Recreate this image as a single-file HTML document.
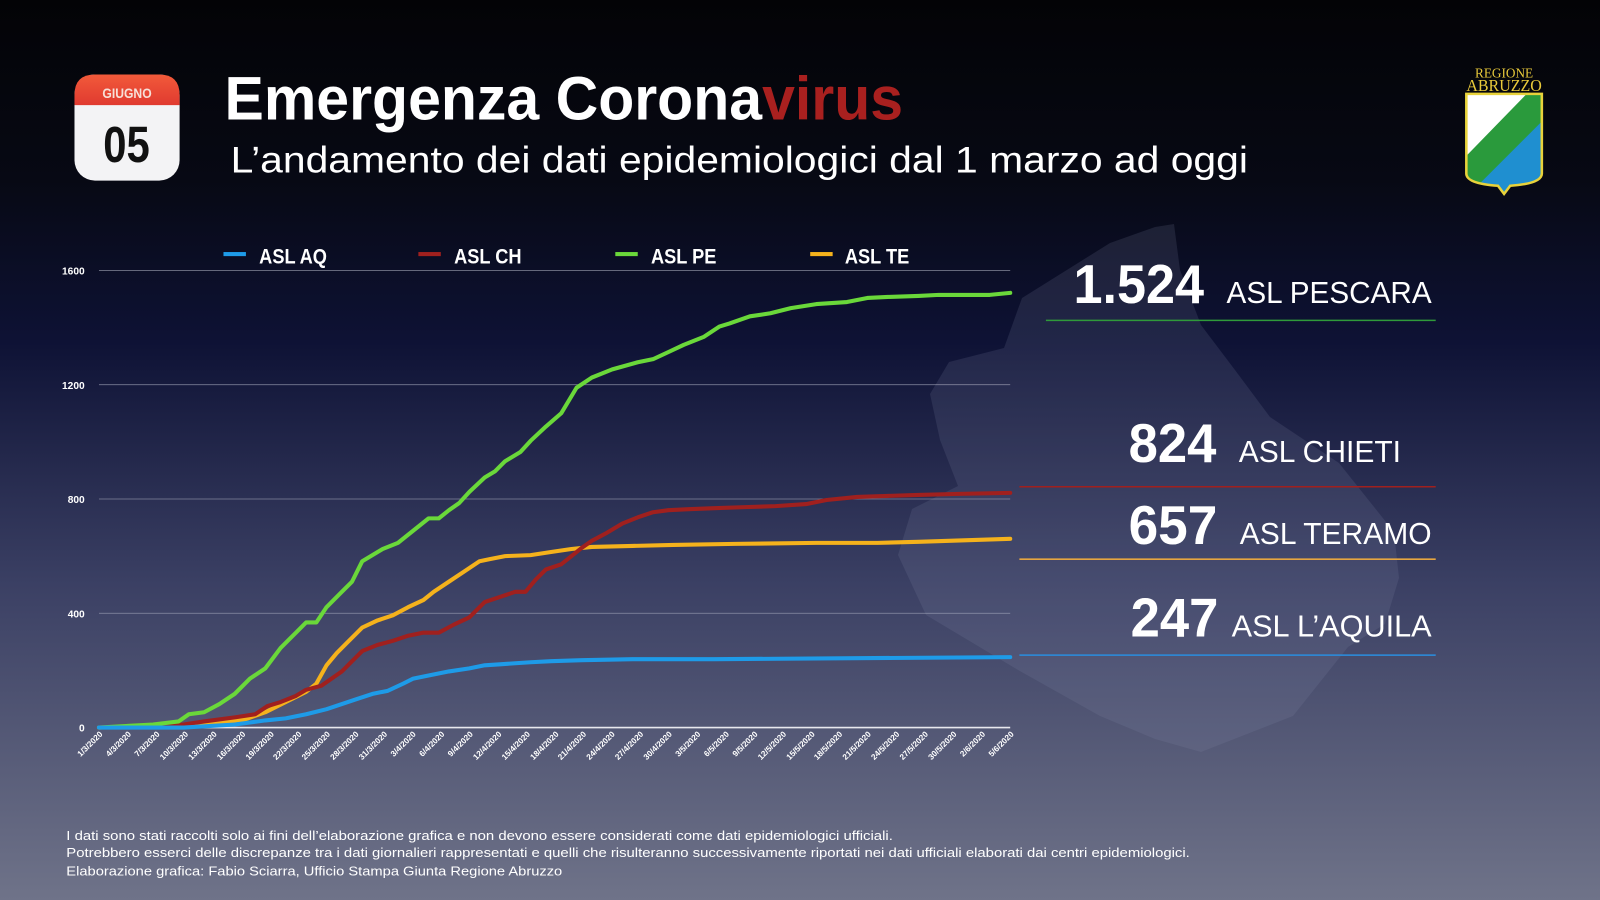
<!DOCTYPE html>
<html><head><meta charset="utf-8"><style>
html,body{margin:0;padding:0;width:1600px;height:900px;overflow:hidden;background:#000}
svg{display:block}
</style></head><body>
<svg width="1600" height="900" viewBox="0 0 1568 882" xmlns="http://www.w3.org/2000/svg" font-family="Liberation Sans, sans-serif">
<defs>
<linearGradient id="bg" x1="0" y1="0" x2="0" y2="1">
<stop offset="0" stop-color="#030306"/>
<stop offset="0.2" stop-color="#070914"/>
<stop offset="0.38" stop-color="#0e1235"/>
<stop offset="0.65" stop-color="#3b4064"/>
<stop offset="1" stop-color="#6f7389"/>
</linearGradient>
<linearGradient id="cal" x1="0" y1="0" x2="0" y2="1">
<stop offset="0" stop-color="#f25a3a"/><stop offset="1" stop-color="#e03a30"/>
</linearGradient>
<clipPath id="shield"><path d="M1437 92 L1511 92 L1511 170 Q1511 180 1480 182 L1474 190 L1468 182 Q1437 180 1437 170 Z"/></clipPath>
</defs>
<rect width="1568" height="882" fill="url(#bg)"/>

<!-- map -->
<g transform="scale(0.98)">
<path fill="#8a90b0" fill-opacity="0.16" d="M1110 243 L1155 227 L1174 224 L1180 270 L1201 325 L1235 370 L1270 417 L1339 463 L1394 532 L1399 578 L1385 624 L1348 647 L1293 716 L1201 752 L1155 739 L1100 716 L1018 670 L926 615 L898 555 L912 509 L958 486 L940 440 L930 394 L949 362 L1004 348 L1022 298 Z"/>
</g>

<!-- calendar -->
<rect x="73" y="73" width="103" height="104" rx="20" fill="#f3f3f5"/>
<path d="M73 103 L73 93 Q73 73 93 73 L156 73 Q176 73 176 93 L176 103 Z" fill="url(#cal)"/>
<text x="124.5" y="96" text-anchor="middle" font-weight="bold" font-size="14" fill="#f7e0d8" transform="translate(124.5 0) scale(0.85 1) translate(-124.5 0)">GIUGNO</text>
<text x="124" y="159" text-anchor="middle" font-weight="bold" font-size="50" fill="#111" transform="translate(124 0) scale(0.82 1) translate(-124 0)">05</text>

<!-- title -->
<text x="220" y="117" font-weight="bold" font-size="60" fill="#fff" textLength="665" lengthAdjust="spacingAndGlyphs">Emergenza Corona<tspan fill="#a9201f">virus</tspan></text>
<text x="226" y="169" font-size="36" fill="#fff" textLength="997" lengthAdjust="spacingAndGlyphs">L’andamento dei dati epidemiologici dal 1 marzo ad oggi</text>

<!-- logo -->
<text x="1474" y="76" text-anchor="middle" font-family="Liberation Serif, serif" font-size="13" fill="#e8c93a">REGIONE</text>
<text x="1474" y="89" text-anchor="middle" font-family="Liberation Serif, serif" font-size="16" fill="#e8c93a" textLength="74" lengthAdjust="spacingAndGlyphs">ABRUZZO</text>
<g clip-path="url(#shield)">
<rect x="1430" y="88" width="90" height="110" fill="#1f8fd0"/>
<path d="M1430 88 L1520 88 L1520 110 L1430 200 Z" fill="#2a9a3c"/>
<path d="M1430 88 L1500 88 L1430 160 Z" fill="#ffffff"/>
</g>
<path d="M1437 92 L1511 92 L1511 170 Q1511 180 1480 182 L1474 190 L1468 182 Q1437 180 1437 170 Z" fill="none" stroke="#e8d23a" stroke-width="2.5"/>

<!-- grid -->
<g stroke="#c9cbd8" stroke-opacity="0.55" stroke-width="0.8">
<line x1="97" y1="265" x2="990" y2="265"/>
<line x1="97" y1="377" x2="990" y2="377"/>
<line x1="97" y1="489" x2="990" y2="489"/>
<line x1="97" y1="601" x2="990" y2="601"/>
</g>
<line x1="97" y1="713" x2="990" y2="713" stroke="#e8e8ee" stroke-width="1.5"/>
<g font-weight="bold" font-size="10" fill="#fff" text-anchor="end">
<text x="83" y="269">1600</text><text x="83" y="381">1200</text><text x="83" y="493">800</text><text x="83" y="605">400</text><text x="83" y="717">0</text>
</g>

<!-- legend -->
<g font-weight="bold" font-size="21" fill="#fff">
<rect x="219" y="247" width="22" height="4" fill="#1e9be8"/>
<text x="254" y="258" transform="translate(254 0) scale(0.85 1) translate(-254 0)">ASL AQ</text>
<rect x="410" y="247" width="22" height="4" fill="#a0201e"/>
<text x="445" y="258" transform="translate(445 0) scale(0.85 1) translate(-445 0)">ASL CH</text>
<rect x="603" y="247" width="22" height="4" fill="#6ad83a"/>
<text x="638" y="258" transform="translate(638 0) scale(0.85 1) translate(-638 0)">ASL PE</text>
<rect x="794" y="247" width="22" height="4" fill="#f5b21c"/>
<text x="828" y="258" transform="translate(828 0) scale(0.85 1) translate(-828 0)">ASL TE</text>
</g>

<!-- series -->
<g fill="none" stroke-width="4" stroke-linejoin="round" stroke-linecap="round">
<polyline stroke="#f5b21c" points="97,713 200,710 240,705 260,698 280,688 300,678 310,670 320,652 330,640 340,630 355,615 370,608 385,603 400,595 415,588 425,580 440,570 455,560 470,550 480,548 495,545 520,544 540,541 560,538 580,536 620,535 660,534 720,533 800,532 860,532 900,531 990,528"/>
<polyline stroke="#a0201e" points="97,713 180,710 200,707 230,703 250,700 262,692 275,688 290,682 300,676 315,672 325,665 335,658 345,648 355,638 370,632 385,628 400,623 415,620 430,620 445,612 460,605 475,590 490,585 505,580 515,580 525,568 535,558 550,553 560,545 570,537 580,530 595,522 610,513 625,507 640,502 655,500 675,499 700,498 730,497 760,496 790,494 810,490 840,487 870,486 900,485 940,484 990,483"/>
<polyline stroke="#6ad83a" points="97,713 150,710 175,707 185,700 200,698 215,690 230,680 245,665 260,655 275,635 290,620 300,610 310,610 320,595 335,580 345,570 355,550 375,538 390,532 405,520 420,508 430,508 440,500 450,493 460,482 475,468 485,462 495,452 510,443 520,432 535,418 550,405 565,380 580,370 600,362 625,355 640,352 655,345 670,338 690,330 705,320 715,317 735,310 755,307 775,302 800,298 830,296 850,292 870,291 900,290 920,289 970,289 990,287"/>
<polyline stroke="#1e9be8" points="97,713 180,713 230,710 260,706 280,704 300,700 320,695 335,690 350,685 365,680 380,677 395,670 405,665 420,662 440,658 460,655 475,652 490,651 505,650 520,649 540,648 570,647 620,646 700,646 990,644"/>
</g>

<!-- date labels -->
<g font-weight="bold" font-size="8" fill="#fff" text-anchor="end">
<text transform="translate(101 720) rotate(-45)">1/3/2020</text>
<text transform="translate(129 720) rotate(-45)">4/3/2020</text>
<text transform="translate(157 720) rotate(-45)">7/3/2020</text>
<text transform="translate(185 720) rotate(-45)">10/3/2020</text>
<text transform="translate(213 720) rotate(-45)">13/3/2020</text>
<text transform="translate(241 720) rotate(-45)">16/3/2020</text>
<text transform="translate(269 720) rotate(-45)">19/3/2020</text>
<text transform="translate(296 720) rotate(-45)">22/3/2020</text>
<text transform="translate(324 720) rotate(-45)">25/3/2020</text>
<text transform="translate(352 720) rotate(-45)">28/3/2020</text>
<text transform="translate(380 720) rotate(-45)">31/3/2020</text>
<text transform="translate(408 720) rotate(-45)">3/4/2020</text>
<text transform="translate(436 720) rotate(-45)">6/4/2020</text>
<text transform="translate(464 720) rotate(-45)">9/4/2020</text>
<text transform="translate(492 720) rotate(-45)">12/4/2020</text>
<text transform="translate(520 720) rotate(-45)">15/4/2020</text>
<text transform="translate(548 720) rotate(-45)">18/4/2020</text>
<text transform="translate(575 720) rotate(-45)">21/4/2020</text>
<text transform="translate(603 720) rotate(-45)">24/4/2020</text>
<text transform="translate(631 720) rotate(-45)">27/4/2020</text>
<text transform="translate(659 720) rotate(-45)">30/4/2020</text>
<text transform="translate(687 720) rotate(-45)">3/5/2020</text>
<text transform="translate(715 720) rotate(-45)">6/5/2020</text>
<text transform="translate(743 720) rotate(-45)">9/5/2020</text>
<text transform="translate(771 720) rotate(-45)">12/5/2020</text>
<text transform="translate(799 720) rotate(-45)">15/5/2020</text>
<text transform="translate(826 720) rotate(-45)">18/5/2020</text>
<text transform="translate(854 720) rotate(-45)">21/5/2020</text>
<text transform="translate(882 720) rotate(-45)">24/5/2020</text>
<text transform="translate(910 720) rotate(-45)">27/5/2020</text>
<text transform="translate(938 720) rotate(-45)">30/5/2020</text>
<text transform="translate(966 720) rotate(-45)">2/6/2020</text>
<text transform="translate(994 720) rotate(-45)">5/6/2020</text>
</g>

<!-- right panel -->
<g fill="#fff">
<text x="1052" y="297" font-weight="bold" font-size="54" textLength="128" lengthAdjust="spacingAndGlyphs">1.524</text>
<text x="1202" y="297" font-size="30" textLength="201" lengthAdjust="spacingAndGlyphs">ASL PESCARA</text>
<text x="1106" y="453" font-weight="bold" font-size="54" textLength="86" lengthAdjust="spacingAndGlyphs">824</text>
<text x="1214" y="453" font-size="30" textLength="159" lengthAdjust="spacingAndGlyphs">ASL CHIETI</text>
<text x="1106" y="533" font-weight="bold" font-size="54" textLength="87" lengthAdjust="spacingAndGlyphs">657</text>
<text x="1215" y="533" font-size="30" textLength="188" lengthAdjust="spacingAndGlyphs">ASL TERAMO</text>
<text x="1108" y="624" font-weight="bold" font-size="54" textLength="86" lengthAdjust="spacingAndGlyphs">247</text>
<text x="1207" y="624" font-size="30" textLength="196" lengthAdjust="spacingAndGlyphs">ASL L’AQUILA</text>
</g>
<line x1="1025" y1="314" x2="1407" y2="314" stroke="#2f9a3a" stroke-width="1.5"/>
<line x1="999" y1="477" x2="1407" y2="477" stroke="#a0201e" stroke-width="1.5"/>
<line x1="999" y1="548" x2="1407" y2="548" stroke="#e6a640" stroke-width="1.5"/>
<line x1="999" y1="642" x2="1407" y2="642" stroke="#2a8ee0" stroke-width="1.5"/>

<!-- footer -->
<g font-size="13" fill="#fff">
<text x="65" y="823" textLength="810" lengthAdjust="spacingAndGlyphs">I dati sono stati raccolti solo ai fini dell’elaborazione grafica e non devono essere considerati come dati epidemiologici ufficiali.</text>
<text x="65" y="840" textLength="1101" lengthAdjust="spacingAndGlyphs">Potrebbero esserci delle discrepanze tra i dati giornalieri rappresentati e quelli che risulteranno successivamente riportati nei dati ufficiali elaborati dai centri epidemiologici.</text>
<text x="65" y="858" textLength="486" lengthAdjust="spacingAndGlyphs">Elaborazione grafica: Fabio Sciarra, Ufficio Stampa Giunta Regione Abruzzo</text>
</g>
</svg>
</body></html>
